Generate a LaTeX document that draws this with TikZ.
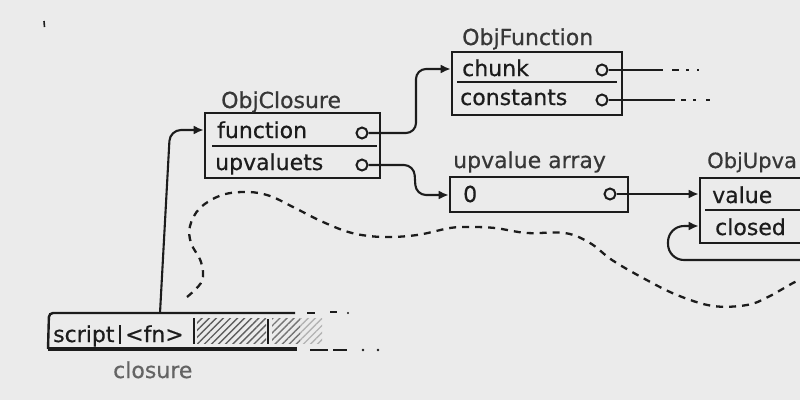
\documentclass[tikz,border=0pt]{standalone}
\usepackage{fontspec}
\setmainfont{DejaVu Sans}
\newfontfamily\handfont[FakeBold=0.5]{DejaVu Sans}
\usetikzlibrary{arrows.meta,patterns.meta}
\definecolor{paper}{RGB}{235,235,235}
\definecolor{ink}{RGB}{28,28,28}
\definecolor{labink}{RGB}{55,55,55}
\definecolor{softink}{RGB}{100,100,100}
\definecolor{hatch}{RGB}{95,95,95}
\tikzset{
  txt/.style={anchor=base west, inner sep=0pt, text=ink, font=\handfont\fontsize{22}{26}\selectfont},
  lab/.style={txt, text=labink},
  boxo/.style={draw=ink, line width=2.6pt, inner sep=0pt},
  divl/.style={draw=ink, line width=2.2pt},
  pin/.style={draw=ink, line width=2pt, circle, minimum size=11pt, inner sep=0pt, fill=paper},
  conn/.style={draw=ink, line width=2.1pt},
  arr/.style={conn, -{Latex[length=10pt,width=9pt]}},
  wavy/.style={draw=ink, line width=2.3pt, dash pattern=on 7pt off 6pt},
  hatchfill/.style={pattern={Lines[angle=45,distance=5pt,line width=1.4pt]}},
}
\begin{document}
\begin{tikzpicture}[x=1pt,y=-1pt]
\useasboundingbox (0,0) rectangle (800,400);
\fill[paper] (0,0) rectangle (800,400);
\begin{scope}
\clip (0,0) rectangle (800,400);

% stray mark
\draw[ink, line width=1.6pt] (44,21) -- (44.5,27);

% ---- stack bar ----
\fill[hatchfill, pattern color=hatch] (197,318) rectangle (266,343);
\fill[hatchfill, pattern color=hatch!85!paper] (272,318) rectangle (300,343);
\fill[hatchfill, pattern color=hatch!40!paper] (300,318) rectangle (322,343);
\draw[ink, line width=2.4pt, rounded corners=4pt] (295,313) -- (49,313) -- (48,349);
\draw[ink, line width=3.2pt] (48,349) -- (297,349);
\draw[ink, line width=2pt] (120,325) -- (120,344);
\draw[ink, line width=2pt] (194,318) -- (194,344);
\draw[ink, line width=2pt] (268,319) -- (268,344);
\draw[ink, line width=2.4pt] (307,313) -- (315,313) (330,312) -- (337,312);
\fill[ink] (348,313) circle (1.2pt);
\draw[ink, line width=2.6pt] (310,350) -- (328,350) (333,350) -- (347,350);
\fill[ink] (363,350) circle (1.3pt) (378,350) circle (1.3pt);
\node[txt] (tscript) at (53,342) {script};
\node[txt] (tfn) at (125,342) {<fn>};
\node[txt, text=softink] (tclosure) at (113,378) {closure};

% ---- ObjClosure ----
\node[boxo, minimum width=175pt, minimum height=65pt] (clo) at (292.5,145.5) {};
\draw[divl] (212,146) -- (377,146);
\node[lab] (lclo) at (221,108) {ObjClosure};
\node[txt] (tfunc) at (217,138) {function};
\node[txt] (tupv) at (215,170) {upvaluets};
\node[pin] (cfun) at (362,133) {};
\node[pin] (cupv) at (362,165) {};

% ---- ObjFunction ----
\node[boxo, minimum width=170pt, minimum height=63pt] (fun) at (537,83.5) {};
\draw[divl] (457,82) -- (617,82);
\node[lab] (lfun) at (462,45) {ObjFunction};
\node[txt] (tchunk) at (462,76) {chunk};
\node[txt] (tconst) at (460,105) {constants};
\node[pin] (cchunk) at (602,70) {};
\node[pin] (cconst) at (602,100) {};
\coordinate (chA) at (652,70);
\coordinate (chB) at (706,70);
\coordinate (coA) at (658,100);
\coordinate (coB) at (710,100);
\draw[conn] (cchunk.east) -- (chA);
\draw[conn, line width=1.8pt, dash pattern=on 11pt off 9pt on 7pt off 7pt on 3pt off 8pt on 1.5pt off 10pt] (chA) -- (chB);
\draw[conn] (cconst.east) -- (coA);
\draw[conn, line width=1.8pt, dash pattern=on 17pt off 6pt on 5pt off 7pt on 3pt off 10pt] (coA) -- (coB);

% ---- upvalue array ----
\node[boxo, minimum width=178pt, minimum height=35pt] (arr) at (539,194.5) {};
\node[lab] (larr) at (453,168) {upvalue array};
\node[txt] (tzero) at (463,202) {0};
\node[pin] (carr) at (610,194) {};

% ---- ObjUpvalue ----
\node[boxo, minimum width=160pt, minimum height=65pt] (upv) at (780,210.5) {};
\draw[divl] (705,210) -- (860,210);
\node[lab, font=\handfont\fontsize{21}{25}\selectfont] (lupv) at (707,168) {ObjUpva};
\node[txt] (tvalue) at (712,203) {value};
\node[txt] (tclosed) at (715,235) {closed};

% ---- connectors ----
\coordinate (sTop) at (160,313);
\draw[arr, rounded corners=11pt] (sTop) -- (170,130) -- (clo.west |- 0,130);
\draw[arr, rounded corners=10pt] (cfun.east) -- (416,133) -- (416,69) -- (fun.west |- 0,69);
\draw[arr, rounded corners=10pt] (cupv.east) -- (414,165) -- (416,195) -- (arr.west |- 0,195);
\draw[arr] (carr.east) -- (upv.west |- carr);
\coordinate (loopR) at (810,260);
\draw[arr, rounded corners=16pt] (loopR) -- (668,260) -- (668,226) -- (upv.west |- 0,226);

% ---- dashed wavy line ----
\draw[wavy] plot[smooth, tension=0.6] coordinates {(187,297) (202,281) (201,262) (191,243) (190,226) (200,208) (222,195) (248,192) (270,196) (295,208) (323,222) (352,233) (383,237) (417,235) (450,228) (470,227) (495,228) (527,233) (565,233) (590,243) (612,260) (643,278) (677,295) (713,306) (747,305) (768,297) (793,283) (808,276)};
\end{scope}
\end{tikzpicture}
\end{document}
